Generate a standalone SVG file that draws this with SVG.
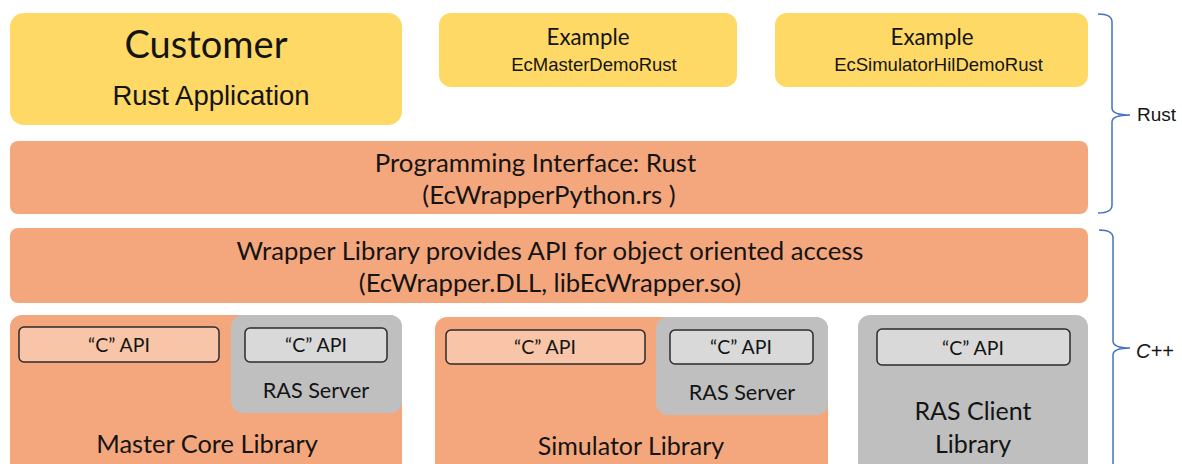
<svg xmlns="http://www.w3.org/2000/svg" width="1182" height="464" viewBox="0 0 1182 464">
<style>
.y{fill:#FFD966}
.o{fill:#F4A77D}
.g{fill:#BFBFBF}
.capo{fill:#F8C5A8;stroke:#2b2b2b;stroke-width:1.5}
.capg{fill:#D9D9D9;stroke:#2b2b2b;stroke-width:1.5}
.c{font-family:Lato,"Open Sans",sans-serif;fill:#141414;text-anchor:middle}
.a{font-family:"Liberation Sans",Arial,sans-serif;fill:#141414;text-anchor:middle}
.br{fill:none;stroke:#4472C4;stroke-width:1.5}
</style>
<rect width="1182" height="464" fill="#fff"/>
<g id="customer">
<rect class="y" x="10" y="13" width="392" height="112" rx="14"/>
<text class="c" x="206" y="58" font-size="38">Customer</text>
<text class="a" x="211" y="105" font-size="27.5">Rust Application</text>
</g>
<g id="example-master">
<rect class="y" x="439" y="13" width="298" height="74" rx="12"/>
<text class="c" x="588" y="45" font-size="22.3">Example</text>
<text class="a" x="594" y="71" font-size="18.5">EcMasterDemoRust</text>
</g>
<g id="example-sim">
<rect class="y" x="775" y="13" width="313" height="74" rx="12"/>
<text class="c" x="932" y="45" font-size="22.3">Example</text>
<text class="a" x="938.5" y="71" font-size="18.5">EcSimulatorHilDemoRust</text>
</g>
<g id="rust-api">
<rect class="o" x="10" y="141" width="1078" height="73" rx="8"/>
<text class="c" x="535.5" y="172" font-size="25.8">Programming Interface: Rust</text>
<text class="c" x="549" y="204" font-size="25.8">(EcWrapperPython.rs )</text>
</g>
<g id="wrapper">
<rect class="o" x="10" y="228" width="1078" height="75" rx="8"/>
<text class="c" x="550" y="260" font-size="25.7">Wrapper Library provides API for object oriented access</text>
<text class="c" x="550" y="292" font-size="25.7">(EcWrapper.DLL, libEcWrapper.so)</text>
</g>
<g id="master-core">
<rect class="o" x="10" y="315" width="392" height="170" rx="12"/>
<rect class="g" x="231" y="315" width="171" height="98" rx="12"/>
<rect class="capo" x="19" y="327" width="200" height="35" rx="5"/>
<text class="c" x="119" y="352" font-size="19.5">“C” API</text>
<rect class="capg" x="245" y="328" width="142" height="34" rx="5"/>
<text class="c" x="316" y="352" font-size="19.5">“C” API</text>
<text class="c" x="316" y="398" font-size="21.6">RAS Server</text>
<text class="c" x="207" y="453" font-size="25.4">Master Core Library</text>
</g>
<g id="simulator">
<rect class="o" x="435" y="317" width="393" height="170" rx="12"/>
<rect class="g" x="656" y="317" width="172" height="98" rx="12"/>
<rect class="capo" x="446" y="330" width="199" height="34" rx="5"/>
<text class="c" x="545" y="354" font-size="19.5">“C” API</text>
<rect class="capg" x="670" y="330" width="143" height="34" rx="5"/>
<text class="c" x="741" y="354" font-size="19.5">“C” API</text>
<text class="c" x="742" y="400" font-size="21.6">RAS Server</text>
<text class="c" x="631" y="455" font-size="25">Simulator Library</text>
</g>
<g id="ras-client">
<rect class="g" x="858" y="315" width="230" height="170" rx="12"/>
<rect class="capg" x="877" y="329" width="193" height="36" rx="5"/>
<text class="c" x="973" y="355" font-size="19.5">“C” API</text>
<text class="c" x="973" y="420" font-size="25">RAS Client</text>
<text class="c" x="973" y="453" font-size="25">Library</text>
</g>
<g id="connectors">
<path class="br" d="M1098,14 Q1112,14 1112,22 L1112,108 Q1112,115 1130,115 Q1112,115 1112,122 L1112,205 Q1112,213 1098,213"/>
<path class="br" d="M1099,230 Q1113,230 1113,238 L1113,341 Q1113,348 1130,348 Q1113,348 1113,355 L1113,470"/>
</g>
<text class="a" x="1137" y="121" font-size="19" style="text-anchor:start">Rust</text>
<text class="a" x="1136" y="358" font-size="20" font-style="italic" style="text-anchor:start">C++</text>
</svg>
